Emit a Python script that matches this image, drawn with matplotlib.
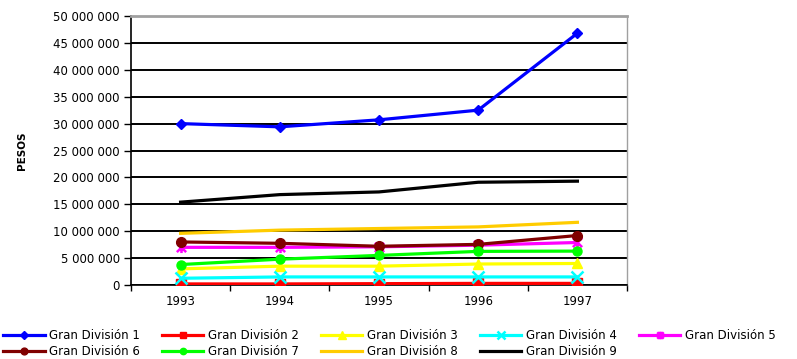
import matplotlib
matplotlib.use("Agg")
import matplotlib.pyplot as plt
from matplotlib.path import Path
from matplotlib.ticker import FuncFormatter, FixedLocator

years = ["1993", "1994", "1995", "1996", "1997"]
series_names = ["Gran División 1", "Gran División 2", "Gran División 3",
                "Gran División 4", "Gran División 5", "Gran División 6",
                "Gran División 7", "Gran División 8", "Gran División 9"]
gd1 = [30.0e6, 29.4e6, 30.7e6, 32.5e6, 46.8e6]
gd2 = [0.2e6, 0.2e6, 0.25e6, 0.3e6, 0.3e6]
gd3 = [3.0e6, 3.5e6, 3.5e6, 3.9e6, 4.0e6]
gd4 = [1.25e6, 1.5e6, 1.5e6, 1.5e6, 1.5e6]
gd5 = [7.0e6, 7.0e6, 7.1e6, 7.4e6, 7.9e6]
gd6 = [8.0e6, 7.75e6, 7.2e6, 7.55e6, 9.2e6]
gd7 = [3.8e6, 4.8e6, 5.5e6, 6.25e6, 6.3e6]
gd8 = [9.6e6, 10.2e6, 10.5e6, 10.8e6, 11.65e6]
gd9 = [15.4e6, 16.8e6, 17.3e6, 19.1e6, 19.3e6]
all_series = [gd1, gd2, gd3, gd4, gd5, gd6, gd7, gd8, gd9]

colors = ["#0000FF", "#FF0000", "#FFFF00", "#00FFFF", "#FF00FF",
          "#800000", "#00FF00", "#FFCC00", "#000000"]

star = Path([(-1, -1), (1, 1), (-1, 1), (1, -1), (0, -1.2), (0, 1.2)],
            [Path.MOVETO, Path.LINETO, Path.MOVETO, Path.LINETO, Path.MOVETO, Path.LINETO])
markers = ["D", "s", "^", "x", star, "o", "o", None, None]
msizes = [5.5, 6.5, 7.5, 8, 8, 7, 6.5, 0, 0]

plt.rcParams['font.family'] = ['DejaVu Sans']

fig = plt.figure(figsize=(7.97, 3.59), dpi=100)
ax = fig.add_axes([131/797, 1-285/359, (627-131)/797, (285-16)/359])

x = list(range(len(years)))
handles = []
for s, name, c, m, ms in zip(all_series, series_names, colors, markers, msizes):
    kw = dict(color=c, lw=2.3, label=name, zorder=3)
    if m is not None:
        kw.update(marker=m, markersize=ms, markeredgecolor=c, markerfacecolor=c,
                  markeredgewidth=1.8 if (m == "x" or m is star) else 1)
    h, = ax.plot(x, s, **kw)
    handles.append(h)

ax.set_xlim(-0.5, len(years) - 0.5)
ax.set_ylim(0, 50e6)
ax.set_yticks([i * 5e6 for i in range(11)])
ax.yaxis.set_major_formatter(FuncFormatter(lambda v, p: f"{v:,.0f}".replace(",", " ")))
ax.set_xticks(x)
ax.set_xticklabels(years)
ax.xaxis.set_minor_locator(FixedLocator([i - 0.5 for i in range(len(years) + 1)]))
ax.tick_params(axis='x', which='major', length=0, pad=7, labelsize=8.5)
ax.tick_params(axis='x', which='minor', length=4, width=1, color='black', direction='out')
ax.tick_params(axis='y', length=5, width=1, direction='out', labelsize=8.5, pad=3)

ax.grid(axis='y', color='black', lw=1.4, zorder=1)
ax.set_axisbelow(True)
for side in ('top', 'right'):
    ax.spines[side].set_color('#A0A0A0')
ax.spines['top'].set_linewidth(2)
ax.spines['right'].set_linewidth(1)
ax.spines['left'].set_color('black')
ax.spines['bottom'].set_color('black')
ax.spines['left'].set_linewidth(1.2)
ax.spines['bottom'].set_linewidth(1.2)

ax.set_ylabel("PESOS", fontsize=7.5, fontweight='bold')
ax.yaxis.set_label_coords(-0.21, 0.5)

# row-major ordering for a 5-column legend
order = [0, 5, 1, 6, 2, 7, 3, 8, 4]
leg = fig.legend([handles[i] for i in order], [series_names[i] for i in order],
                 loc='lower left', bbox_to_anchor=(2/797, 0.0, 775/797, 0.12),
                 mode='expand', ncol=5, frameon=False, fontsize=8.5,
                 handlelength=3.5, handletextpad=0.4, borderaxespad=0.0,
                 labelspacing=0.25, borderpad=0.1, markerscale=0.7)

fig.savefig("out.png", dpi=100)
